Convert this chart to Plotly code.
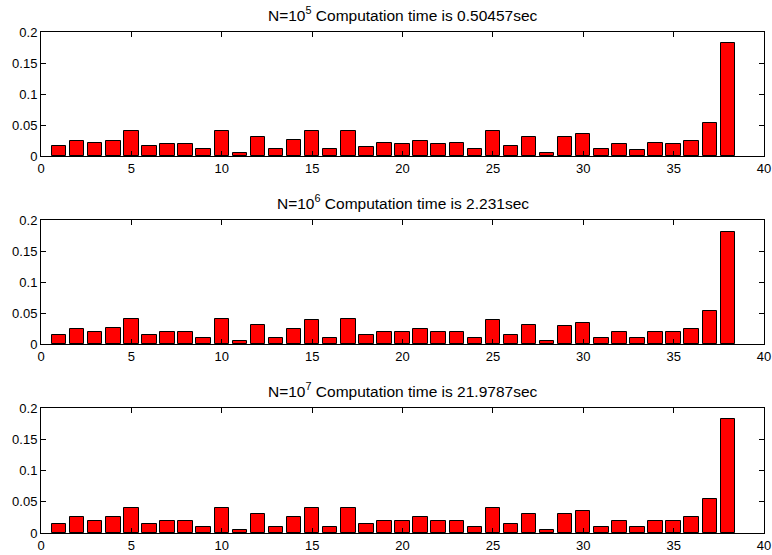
import plotly.graph_objects as go

bins = list(range(1, 39))

p_1e5 = [0.016, 0.025, 0.021, 0.025, 0.040, 0.0155, 0.020, 0.019, 0.011, 0.040,
         0.005, 0.030, 0.011, 0.026, 0.040, 0.011, 0.040, 0.0145, 0.021, 0.020,
         0.024, 0.020, 0.021, 0.011, 0.041, 0.0155, 0.031, 0.005, 0.030, 0.035,
         0.011, 0.020, 0.010, 0.0215, 0.020, 0.025, 0.054, 0.182]
p_1e6 = [0.015, 0.025, 0.020, 0.0255, 0.040, 0.015, 0.020, 0.020, 0.010, 0.040,
         0.005, 0.030, 0.010, 0.025, 0.039, 0.010, 0.040, 0.015, 0.020, 0.020,
         0.0245, 0.020, 0.020, 0.010, 0.039, 0.015, 0.030, 0.0045, 0.029, 0.034,
         0.010, 0.020, 0.010, 0.020, 0.020, 0.025, 0.054, 0.181]
p_1e7 = [0.015, 0.025, 0.020, 0.025, 0.040, 0.015, 0.020, 0.020, 0.010, 0.040,
         0.005, 0.030, 0.010, 0.025, 0.040, 0.010, 0.040, 0.015, 0.020, 0.020,
         0.025, 0.020, 0.020, 0.010, 0.040, 0.015, 0.030, 0.005, 0.030, 0.035,
         0.010, 0.020, 0.010, 0.020, 0.020, 0.025, 0.055, 0.182]

series = [p_1e5, p_1e6, p_1e7]
titles = ["N=10<sup>5</sup> Computation time is 0.50457sec",
          "N=10<sup>6</sup> Computation time is 2.231sec",
          "N=10<sup>7</sup> Computation time is 21.9787sec"]

x_ticks = [0, 5, 10, 15, 20, 25, 30, 35, 40]
y_ticks = [0, 0.05, 0.1, 0.15, 0.2]
y_labels = ["0", "0.05", "0.1", "0.15", "0.2"]

W, H = 772, 555
mt, mb = 32, 22
inner = H - mt - mb
panels_px = [(32, 156), (220, 344), (408, 533)]  # top, bottom in px
domains = [((H - mb - b) / inner, (H - mb - t) / inner) for t, b in panels_px]

fig = go.Figure()
font = "Liberation Sans, Arial, Helvetica, sans-serif"

for i, (vals, title, dom) in enumerate(zip(series, titles, domains)):
    n = i + 1
    xa = "x" if n == 1 else f"x{n}"
    ya = "y" if n == 1 else f"y{n}"
    fig.add_trace(go.Bar(x=bins, y=vals, width=0.8, xaxis=xa, yaxis=ya,
                         marker=dict(color="#ff0000", line=dict(color="black", width=1)),
                         showlegend=False))
    axis_common = dict(showline=True, linecolor="black", linewidth=1, mirror="ticks",
                       ticks="inside", ticklen=5, tickcolor="black", showgrid=False,
                       zeroline=False, automargin=False,
                       tickfont=dict(size=13, color="black", family=font))
    fig.layout[f"xaxis{'' if n == 1 else n}"] = dict(
        range=[0, 40], tickvals=x_ticks, anchor=ya, domain=[0, 1], **axis_common)
    fig.layout[f"yaxis{'' if n == 1 else n}"] = dict(
        range=[0, 0.2], tickvals=y_ticks, ticktext=y_labels, anchor=xa, domain=list(dom),
        **axis_common)
    fig.add_annotation(text=title, xref="paper", yref="paper", x=0.5, y=dom[1],
                       yshift=6, xanchor="center", yanchor="bottom", showarrow=False,
                       font=dict(size=15.5, color="black", family=font))

fig.update_layout(width=W, height=H, margin=dict(l=41, r=8, t=mt, b=mb, autoexpand=False),
                  plot_bgcolor="white", paper_bgcolor="white", bargap=0)

fig.write_html("out.html", config={"displayModeBar": False},
               post_script="document.body.style.margin='0';document.body.style.overflow='hidden';")
